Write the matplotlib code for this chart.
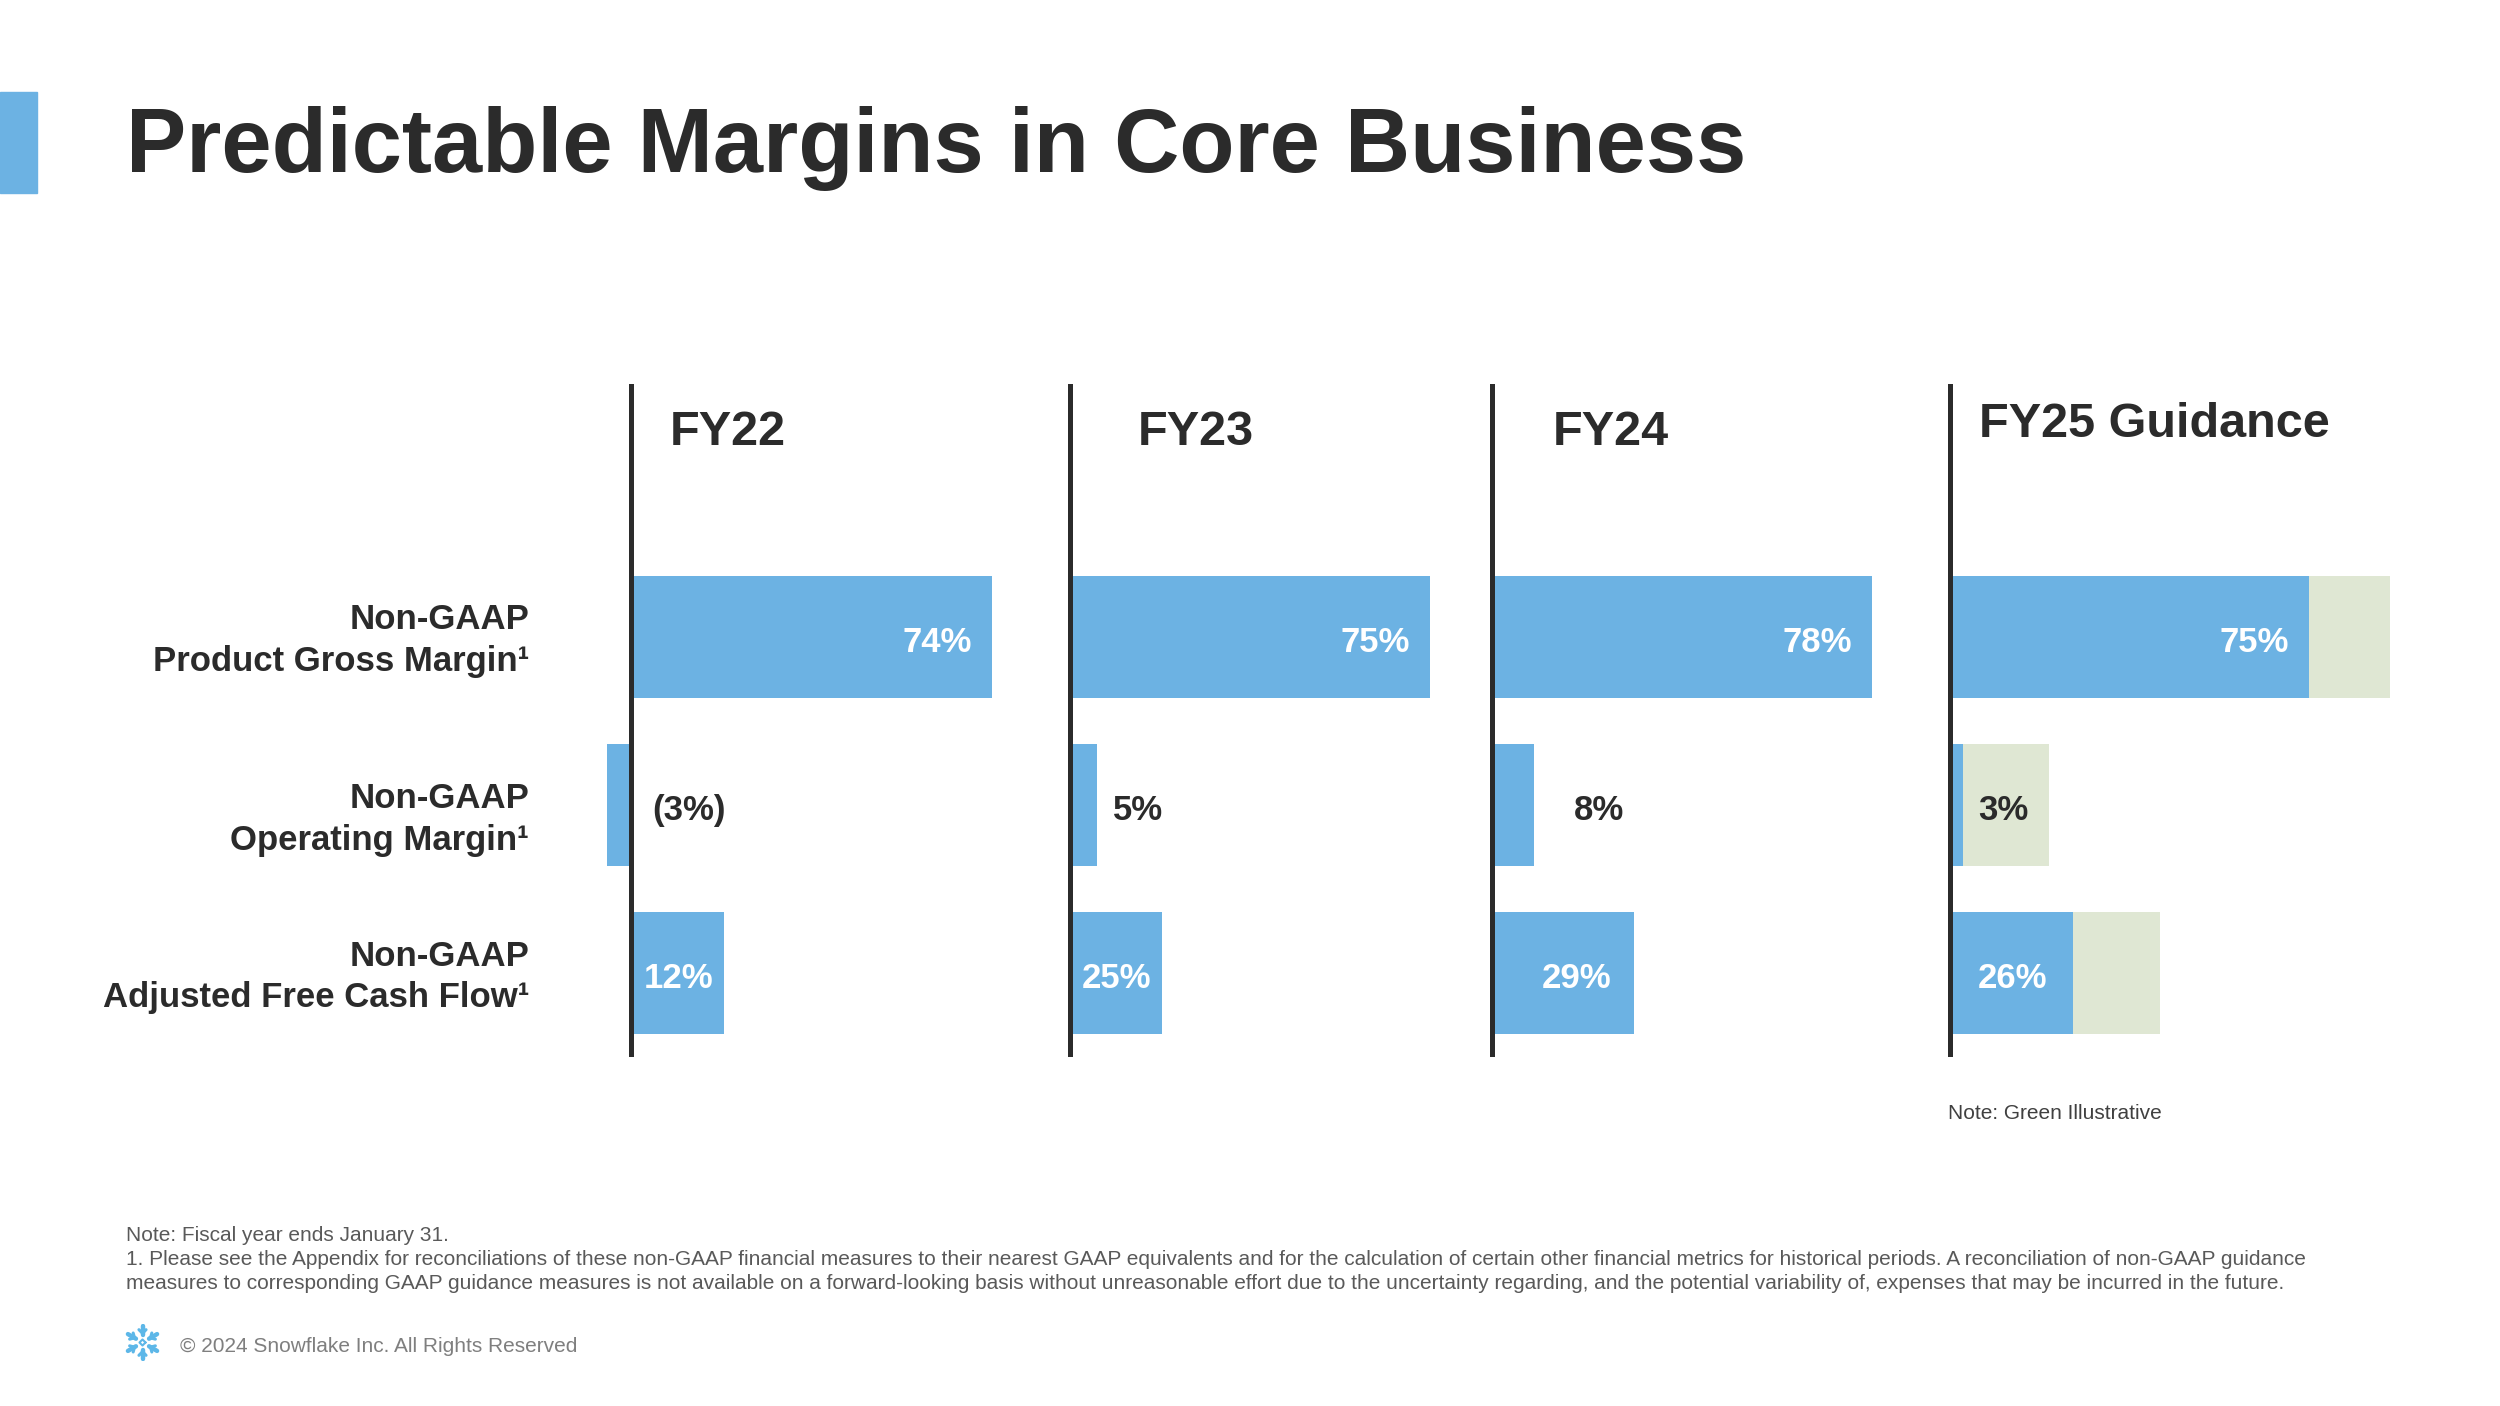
import numpy as np
import matplotlib
matplotlib.use('Agg')
import matplotlib.pyplot as plt

plt.rcParams['font.family'] = ['Liberation Sans', 'DejaVu Sans']

# ---- data ----
years = ["FY22", "FY23", "FY24", "FY25 Guidance"]
metric_labels = [["Non-GAAP", "Product Gross Margin¹"],
                 ["Non-GAAP", "Operating Margin¹"],
                 ["Non-GAAP", "Adjusted Free Cash Flow¹"]]
gross_margin = [74, 75, 78, 75]
operating_margin = [-3, 5, 8, 3]
fcf_margin = [12, 25, 29, 26]
# bar lengths as drawn on the slide (not to scale with the labels)
gross_bar = [74, 73.8, 77.9, 73.6]
operating_bar = [-5, 5.5, 8.6, 2.7]
fcf_bar = [19, 18.9, 29.1, 25.2]
# FY25 green "illustrative" extension (drawn length), one per metric
guide_bar = [90.2, 20.3, 43]

footnotes = ["Note: Fiscal year ends January 31.",
             "1. Please see the Appendix for reconciliations of these non-GAAP financial measures to their nearest GAAP equivalents and for the calculation of certain other financial metrics for historical periods. A reconciliation of non-GAAP guidance",
             "measures to corresponding GAAP guidance measures is not available on a forward-looking basis without unreasonable effort due to the uncertainty regarding, and the potential variability of, expenses that may be incurred in the future."]

# ---- style / layout ----
BLUE = '#6cb2e3'
GREEN = '#dfe7d3'
DARK = '#2b2b2b'
W, H = 2500, 1406
PX = 4.88            # pixels per bar unit
XMIN, XMAX = -8, 95
line_x = [631, 1070, 1492, 1950]
head_dx = [39, 68, 61, 29]
head_base = [445, 445, 445, 437]
op_label_center = [11.9, 13.9, 22.0, 10.9]
fcf_label_center = [9.8, 9.5, 17.4, 12.9]
top_px, bot_px = 384, 1057
dy = 0.035           # nudge labels down a little


def fx(x):
    return x / W


def fy(y):
    return 1 - y / H


fig = plt.figure(figsize=(W / 100, H / 100), dpi=100)

# title + accent block
fig.patches.append(plt.Rectangle((0, fy(193)), fx(37), (193 - 92) / H,
                                 transform=fig.transFigure, color=BLUE))
fig.text(fx(126), fy(172), "Predictable Margins in Core Business", fontsize=65,
         fontweight='bold', color=DARK, va='baseline', ha='left')


def fmt(v):
    return f"({abs(v)}%)" if v < 0 else f"{v}%"


# panels
for i, yr in enumerate(years):
    left = line_x[i] + XMIN * PX
    ax = fig.add_axes([fx(left), fy(bot_px), (XMAX - XMIN) * PX / W, (bot_px - top_px) / H])
    ax.set_xlim(XMIN, XMAX)
    ax.set_ylim(2.5, -1.506)
    ax.axis('off')
    ax.patch.set_alpha(0)

    if i == len(years) - 1:
        ax.barh(range(3), guide_bar, height=0.73, color=GREEN, zorder=1)
    bars = [gross_bar[i], operating_bar[i], fcf_bar[i]]
    ax.barh(range(3), bars, height=0.73, color=BLUE, zorder=2)
    ax.axvline(0, color=DARK, lw=3.6, zorder=3)

    # row 1: white, right aligned inside bar
    ax.text(bars[0] - 4.2, 0 + dy, fmt(gross_margin[i]), color='white', fontsize=25,
            fontweight='bold', ha='right', va='center', zorder=4)
    # row 2: dark, next to bar
    ax.text(op_label_center[i], 1 + dy, fmt(operating_margin[i]), color=DARK, fontsize=25,
            fontweight='bold', ha='center', va='center', zorder=4)
    # row 3: white, inside bar
    ax.text(fcf_label_center[i], 2 + dy, fmt(fcf_margin[i]), color='white', fontsize=25,
            fontweight='bold', ha='center', va='center', zorder=4)

    fig.text(fx(line_x[i] + head_dx[i]), fy(head_base[i]), yr, fontsize=35,
             fontweight='bold', color=DARK, va='baseline', ha='left')

# row labels
label_base = [(629, 671), (808, 850), (966, 1007)]
for lab, (b1, b2) in zip(metric_labels, label_base):
    fig.text(fx(529), fy(b1), lab[0], fontsize=25, fontweight='bold', color=DARK,
             ha='right', va='baseline')
    fig.text(fx(529), fy(b2), lab[1], fontsize=25, fontweight='bold', color=DARK,
             ha='right', va='baseline')

fig.text(fx(1948), fy(1119), "Note: Green Illustrative", fontsize=15, color='#404040',
         ha='left', va='baseline')

# footnotes
for txt, b in zip(footnotes, [1241, 1265, 1289]):
    fig.text(fx(126), fy(b), txt, fontsize=15, color='#595959', ha='left', va='baseline')
fig.text(fx(180), fy(1352), "© 2024 Snowflake Inc. All Rights Reserved", fontsize=15,
         color='#7f7f7f', ha='left', va='baseline')

# little snowflake logo
lg = fig.add_axes([fx(124), fy(1361), 37 / W, 37 / H])
lg.set_xlim(-1.1, 1.1)
lg.set_ylim(-1.1, 1.1)
lg.set_aspect('equal')
lg.axis('off')
for a in np.deg2rad(np.arange(30, 390, 60)):
    c, s = np.cos(a), np.sin(a)
    lg.plot([0.45 * c, 1.0 * c], [0.45 * s, 1.0 * s], color='#5db7e8', lw=3.2,
            solid_capstyle='round')
    for d in (-1, 1):
        pa = a + d * np.deg2rad(45)
        lg.plot([0.55 * c, 0.55 * c + 0.3 * np.cos(pa)], [0.55 * s, 0.55 * s + 0.3 * np.sin(pa)],
                color='#5db7e8', lw=2.2, solid_capstyle='round')
lg.plot([0.18, 0, -0.18, 0, 0.18], [0, 0.18, 0, -0.18, 0], color='#5db7e8', lw=1.5)

fig.savefig('out.png', dpi=100)
